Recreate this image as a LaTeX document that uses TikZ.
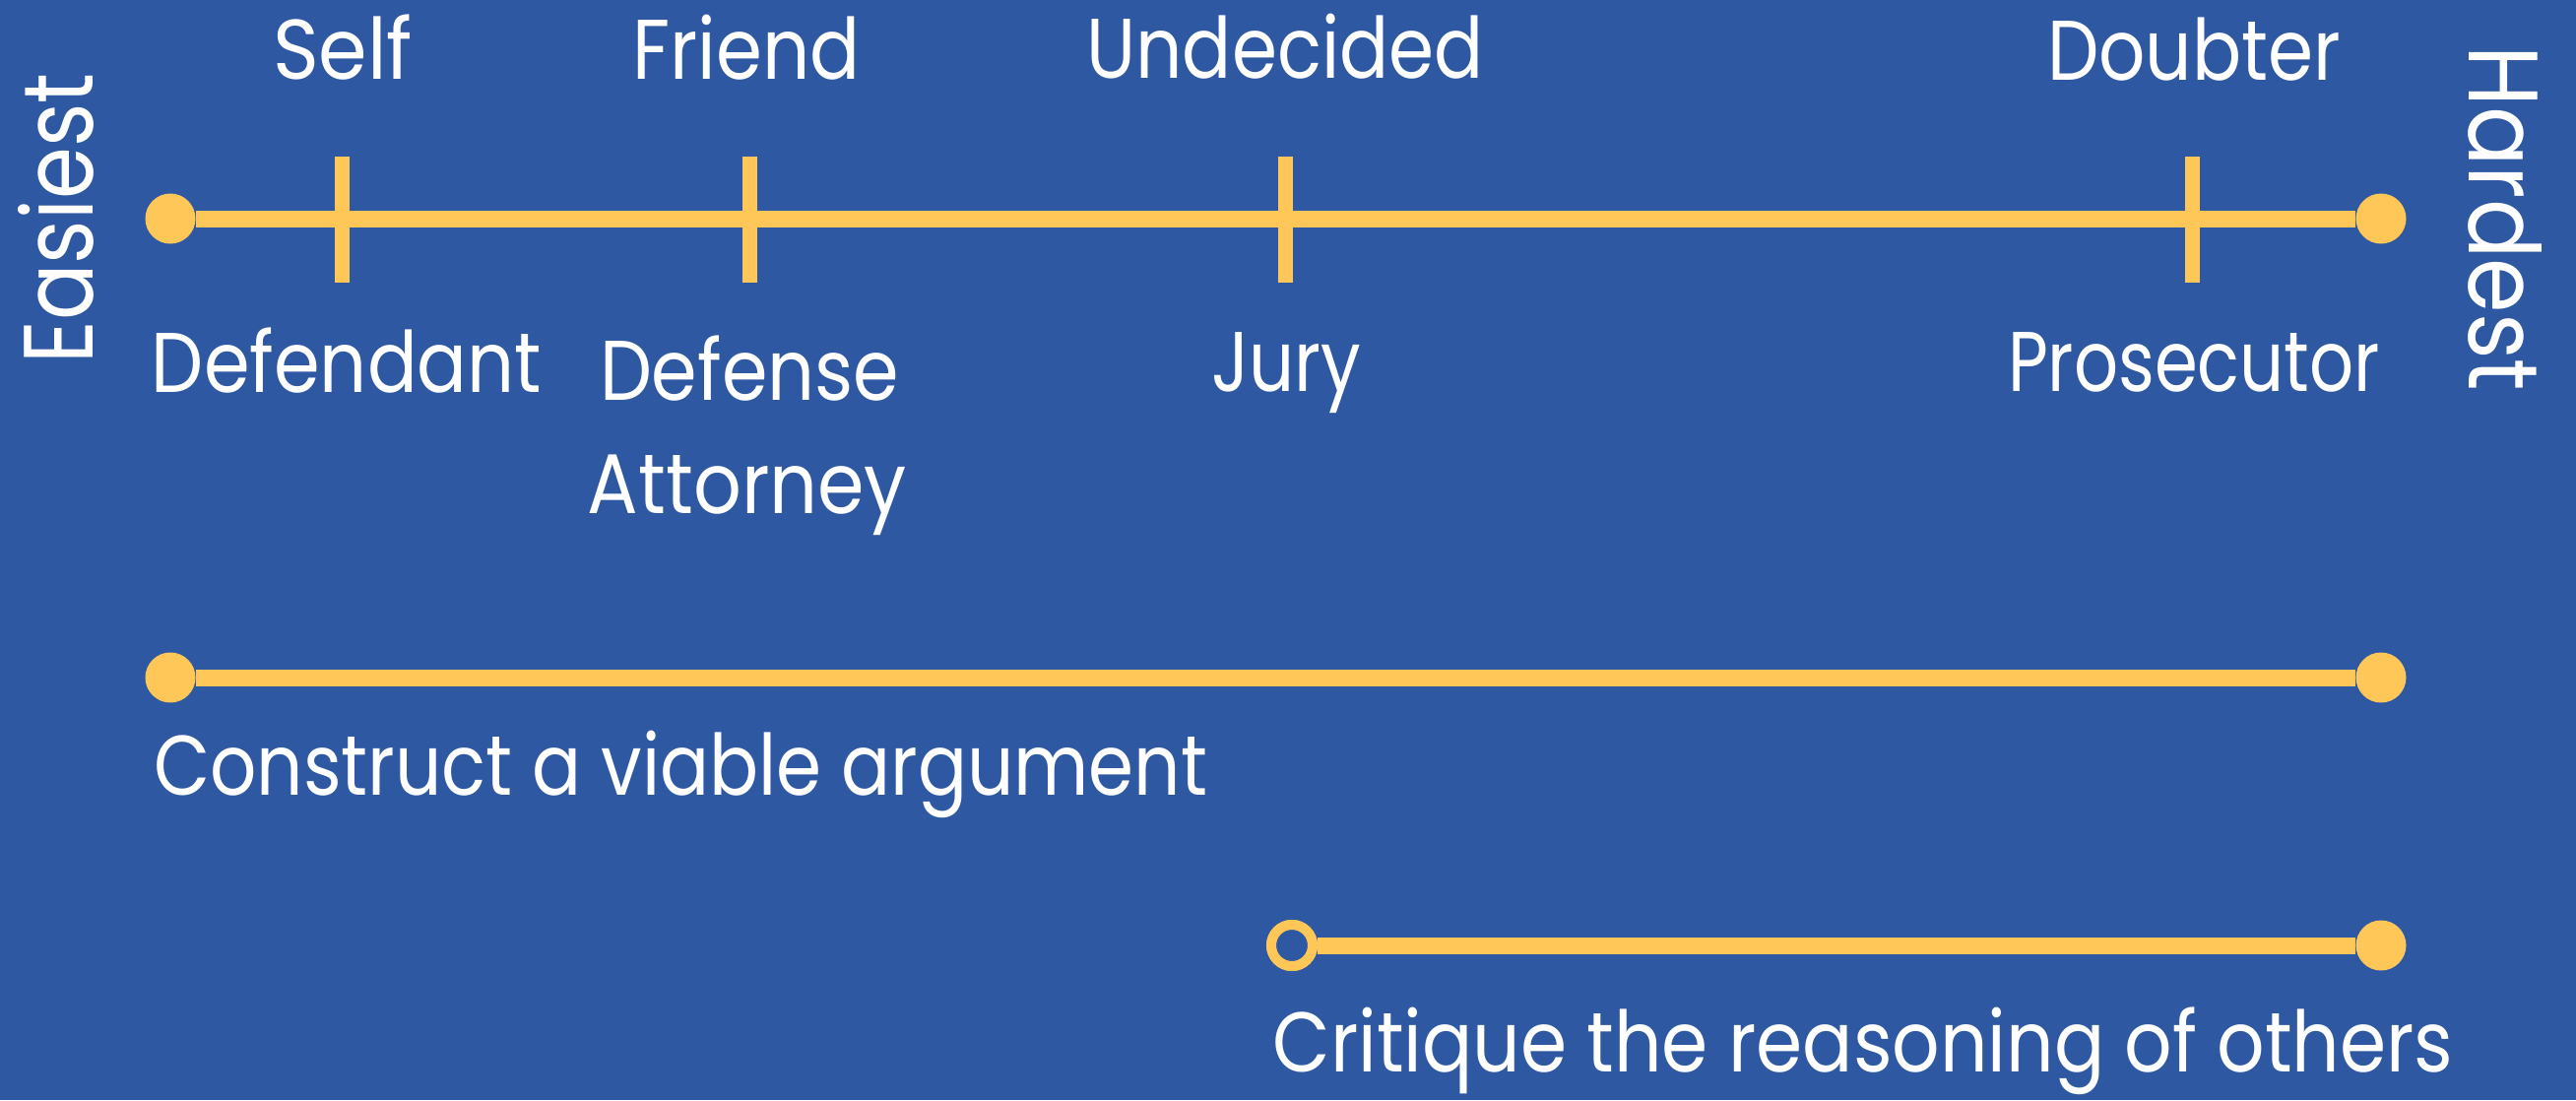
\documentclass[tikz,border=0pt]{standalone}
\usepackage{fontspec}
\setmainfont{Poppins}
\definecolor{bg}{HTML}{2E59A2}
\definecolor{gold}{HTML}{FFC658}
\newcommand{\fitw}[2]{\resizebox{#1pt}{\height}{#2}}
\begin{document}
\begin{tikzpicture}[x=1pt,y=-1pt,
  lbl/.style={text=white, inner sep=0, anchor=base, font=\fontsize{86}{100}\selectfont},
  biglbl/.style={text=white, inner sep=0, anchor=base, font=\fontsize{100}{120}\selectfont},
  bar/.style={draw=gold, line width=17pt},
  tickmark/.style={draw=gold, line width=15pt},
  dot/.style={circle, fill=gold, minimum size=51pt, inner sep=0},
  opendot/.style={circle, draw=gold, fill=bg, line width=10pt, minimum size=42pt, inner sep=0}]
\fill[bg] (0,0) rectangle (2616,1117);
\useasboundingbox (0,0) rectangle (2616,1117);

% line 1
\node[dot] (a1) at (173,222) {};
\node[dot] (b1) at (2418,222) {};
\draw[bar] (a1) -- (b1);
\foreach \n/\x in {s/347,f/761,u/1305,d/2226}{
  \coordinate (\n top) at (\x,159);
  \coordinate (\n bot) at (\x,287);
  \draw[tickmark] (\n top) -- (\n bot);
}
\node[lbl] (self) at (348,80) {\fitw{142}{Self}};
\node[lbl] (friend) at (758,80) {\fitw{231}{Friend}};
\node[lbl] (undecided) at (1305,79) {\fitw{403}{Undecided}};
\node[lbl] (doubter) at (2228,81) {\fitw{298}{Doubter}};
\node[lbl] (defendant) at (352,398) {\fitw{396}{Defendant}};
\node[lbl] (defense) at (761,406) {\fitw{304}{Defense}};
\node[lbl] (attorney) at (759,521) {\fitw{324}{Attorney}};
\node[lbl] (jury) at (1306,397) {\fitw{152}{Jury}};
\node[lbl] (prosecutor) at (2228,397) {\fitw{378}{Prosecutor}};
\node[biglbl, rotate=90] (easiest) at (94,222) {\fitw{295}{Easiest}};
\node[biglbl, rotate=-90] (hardest) at (2507,222) {\fitw{351}{Hardest}};

% line 2
\node[dot] (a2) at (173,688) {};
\node[dot] (b2) at (2418,688) {};
\draw[bar] (a2) -- (b2);
\node[lbl, anchor=base west] (construct) at (156,807) {\fitw{1070}{Construct a viable argument}};

% line 3
\node[opendot] (a3) at (1312,960) {};
\node[dot] (b3) at (2418,960) {};
\draw[bar] (a3) -- (b3);
\node[opendot] at (a3) {};
\node[lbl] (critique) at (1892,1088) {\fitw{1199}{Critique the reasoning of others}};
\end{tikzpicture}
\end{document}
